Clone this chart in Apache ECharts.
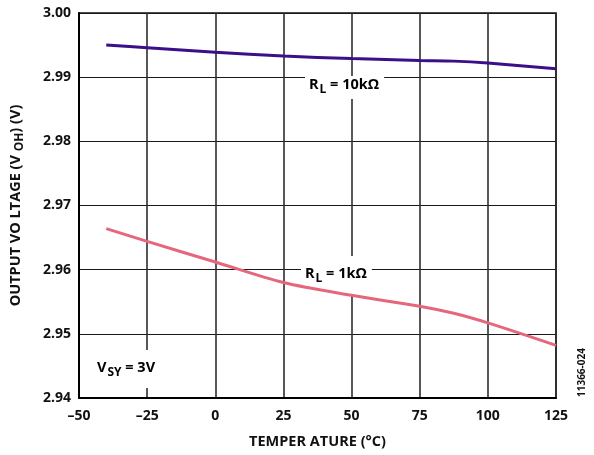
<!DOCTYPE html>
<html><head><meta charset="utf-8">
<script src="https://cdn.jsdelivr.net/npm/echarts@6/dist/echarts.min.js"></script>
<style>html,body{margin:0;padding:0;background:#fff}#c{width:594px;height:455px}</style>
</head><body><div id="c"></div>
<script>
const temps = [-40, -25, 0, 25, 50, 75, 87.5, 100, 125];
const rl10k = [2.9950, 2.9946, 2.9939, 2.9933, 2.9929, 2.9926, 2.9925, 2.9922, 2.9913];
const rl1k  = [2.9664, 2.9644, 2.9612, 2.9580, 2.9560, 2.9543, 2.9532, 2.9517, 2.9482];
const xTicks = [-50, -25, 0, 25, 50, 75, 100, 125];
const yTicks = [2.94, 2.95, 2.96, 2.97, 2.98, 2.99, 3.00];

const FONT = 'Open Sans';
const sub = {fontFamily: FONT, fontWeight: 'bold', fontSize: 12, color: '#111', verticalAlign: 'bottom', padding: [0, 0, -3, 1]};
const chart = echarts.init(document.getElementById('c'), null, {renderer: 'canvas'});
chart.setOption({
  animation: false,
  grid: {left: 75, top: 13, right: 38, bottom: 57, show: true, borderColor: '#111', borderWidth: 1.6, backgroundColor: 'transparent'},
  xAxis: {
    type: 'value', min: -50, max: 125, interval: 25,
    axisLine: {show: true, onZero: false, lineStyle: {color: '#000', width: 2}},
    axisTick: {show: false},
    splitLine: {show: true, lineStyle: {color: '#2e2e2e', width: 1.6}},
    axisLabel: {margin: 11, color: '#111', fontFamily: FONT, fontWeight: 'bold', fontSize: 14,
      formatter: v => (v < 0 ? '\u2013' + Math.abs(v) : String(v))},
    name: 'TEMPER ATURE (°C)', nameLocation: 'middle', nameGap: 36,
    nameTextStyle: {color: '#111', fontFamily: FONT, fontWeight: 'bold', fontSize: 14.5}
  },
  yAxis: {
    type: 'value', min: 2.94, max: 3.00, interval: 0.01,
    axisLine: {show: true, onZero: false, lineStyle: {color: '#000', width: 2}},
    axisTick: {show: false},
    splitLine: {show: true, lineStyle: {color: '#1a1a1a', width: 1.2}},
    axisLabel: {margin: 8, color: '#111', fontFamily: FONT, fontWeight: 'bold', fontSize: 14,
      formatter: v => v.toFixed(2)},
    name: '{a|OUTPUT VO LTAGE (V }{s|OH}{a|) (V)}', nameLocation: 'middle', nameGap: 56, nameRotate: 90,
    nameTextStyle: {color: '#111', fontFamily: FONT, fontWeight: 'bold', fontSize: 14.5,
      rich: {a: {fontFamily: FONT, fontWeight: 'bold', fontSize: 14.5, color: '#111'},
             s: {fontFamily: FONT, fontWeight: 'bold', fontSize: 12, color: '#111', verticalAlign: 'bottom', padding: [0, 0, -3, 0]}}}
  },
  series: [
    {type: 'line', z: 5, data: temps.map((t, i) => [t, rl10k[i]]), smooth: 0.3, showSymbol: false,
      lineStyle: {color: '#3b0f8a', width: 3}},
    {type: 'line', z: 5, data: temps.map((t, i) => [t, rl1k[i]]), smooth: 0.3, showSymbol: false,
      lineStyle: {color: '#e6677c', width: 3}}
  ],
  graphic: [
    {type: 'text', left: 305, top: 76, z: 1, style: {
      text: '{a|R}{s|L}{a| = 10kΩ}', backgroundColor: '#fff', padding: [0, 5, 6, 4],
      rich: {a: {fontFamily: FONT, fontWeight: 'bold', fontSize: 14.5, color: '#111', lineHeight: 17}, s: sub}}},
    {type: 'text', left: 301, top: 256, z: 1, style: {
      text: '{a|R}{s|L}{a| = 1kΩ}', backgroundColor: '#fff', padding: [9, 5, 12, 4],
      rich: {a: {fontFamily: FONT, fontWeight: 'bold', fontSize: 14.5, color: '#111', lineHeight: 17}, s: sub}}},
    {type: 'text', left: 93, top: 350, z: 1, style: {
      text: '{a|V}{s|SY}{a| = 3V}', backgroundColor: '#fff', padding: [9, 4, 12, 4],
      rich: {a: {fontFamily: FONT, fontWeight: 'bold', fontSize: 14.5, color: '#111', lineHeight: 17}, s: sub}}},
    {type: 'text', x: 577, y: 397, rotation: Math.PI / 2, z: 100, style: {
      text: '11366-024', fontFamily: FONT, fontWeight: 'bold', fontSize: 10, fill: '#111',
      textAlign: 'left', textVerticalAlign: 'top'}}
  ]
});
</script></body></html>
